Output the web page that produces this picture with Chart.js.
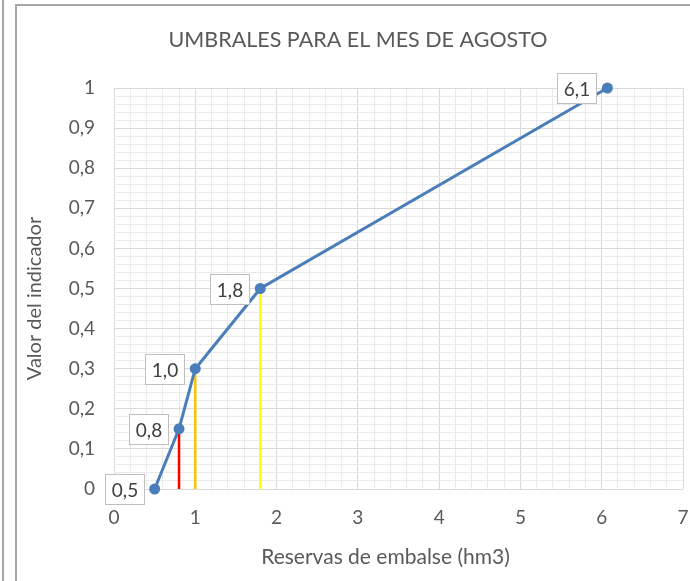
<!DOCTYPE html>
<html>
<head>
<meta charset="utf-8">
<script src="https://cdn.jsdelivr.net/npm/chart.js@4.4.1/dist/chart.umd.min.js"></script>
<style>
  html, body { margin: 0; padding: 0; background: #ffffff; }
  #wrap { position: relative; width: 690px; height: 581px; overflow: hidden; }
  #c { position: absolute; left: 0; top: 0; }
  .ln { position: absolute; background: #a6a6a6; pointer-events: none; }
</style>
</head>
<body>
<div id="wrap">
  <canvas id="c" width="690" height="581"></canvas>
  <div class="ln" style="left:2px;top:0;width:2px;height:581px;"></div>
  <div class="ln" style="left:15px;top:4px;width:2px;height:577px;"></div>
  <div class="ln" style="left:15px;top:4px;width:675px;height:2px;"></div>
</div>
<script>
// ---- Data ----
const reservas   = [0.5, 0.8, 1.0, 1.8, 6.07];      // x: Reservas de embalse (hm3)
const indicador  = [0, 0.15, 0.3, 0.5, 1];          // y: Valor del indicador
const etiquetas  = ['0,5', '0,8', '1,0', '1,8', '6,1'];
const umbralX    = [0.8, 1.0, 1.8];                 // threshold reserves
const umbralY    = [0.15, 0.3, 0.5];                // threshold indicator value
const xTicksLab  = ['0', '1', '2', '3', '4', '5', '6', '7'];
const yTicksLab  = ['0', '0,1', '0,2', '0,3', '0,4', '0,5', '0,6', '0,7', '0,8', '0,9', '1'];
const tituloTxt  = 'UMBRALES PARA EL MES DE AGOSTO';
const ejeXTxt    = 'Reservas de embalse (hm3)';
const ejeYTxt    = 'Valor del indicador';

const FONT = 'Lato, "Open Sans", sans-serif';
const TXT = '#595959';
const umbralColores = ['#ff0000', '#ffc000', '#ffff00'];

const mainData = reservas.map((x, i) => ({ x: x, y: indicador[i] }));
const umbralSets = umbralX.map((x, i) => ({
  label: 'umbral' + i,
  data: [{ x: x, y: 0 }, { x: x, y: umbralY[i] }],
  borderColor: umbralColores[i],
  borderWidth: 2.5,
  pointRadius: 0,
  order: 2,
  showLine: true
}));

function isNear(v, step) {
  const r = v / step;
  return Math.abs(r - Math.round(r)) < 1e-6;
}

const labelPlugin = {
  id: 'boxLabels',
  afterDatasetsDraw(chart) {
    const meta = chart.getDatasetMeta(0);
    const ctx = chart.ctx;
    ctx.save();
    ctx.font = '19px ' + FONT;
    ctx.textAlign = 'center';
    ctx.textBaseline = 'middle';
    meta.data.forEach((pt, i) => {
      const txt = etiquetas[i];
      const w = 39, h = 30, gap = 11;
      const bx = Math.round(pt.x - gap - w) + 0.5;
      const by = Math.round(pt.y - h / 2) + 0.5;
      ctx.fillStyle = '#ffffff';
      ctx.fillRect(bx, by, w, h);
      ctx.strokeStyle = '#bfbfbf';
      ctx.lineWidth = 1;
      ctx.strokeRect(bx, by, w, h);
      ctx.fillStyle = '#404040';
      ctx.fillText(txt, bx + w / 2, by + h / 2 + 1);
    });
    ctx.restore();
  }
};

const titlesPlugin = {
  id: 'titles',
  beforeDraw(chart) {
    const ctx = chart.ctx;
    ctx.save();
    ctx.fillStyle = '#ffffff';
    ctx.fillRect(0, 0, chart.width, chart.height);
    ctx.restore();
  },
  afterDraw(chart) {
    const ctx = chart.ctx;
    const a = chart.chartArea;
    ctx.save();
    ctx.fillStyle = TXT;
    ctx.textAlign = 'center';
    ctx.textBaseline = 'middle';
    ctx.font = '21.5px ' + FONT;
    ctx.fillText(tituloTxt, 358, 40);
    ctx.font = '21px ' + FONT;
    ctx.fillText(ejeXTxt, (a.left + a.right) / 2 - 13, 557);
    ctx.translate(35, (a.top + a.bottom) / 2 + 10);
    ctx.rotate(-Math.PI / 2);
    ctx.font = '20px ' + FONT;
    ctx.fillText(ejeYTxt, 0, 0);
    ctx.restore();
  }
};

new Chart(document.getElementById('c'), {
  type: 'scatter',
  data: {
    datasets: [{
      label: 'Umbral',
      data: mainData,
      showLine: true,
      clip: false,
      borderColor: '#4a7ebb',
      backgroundColor: '#4a7ebb',
      borderWidth: 3,
      pointRadius: 5.5,
      pointHoverRadius: 5.5,
      pointBorderWidth: 0,
      order: 1
    }].concat(umbralSets)
  },
  options: {
    responsive: false,
    animation: false,
    devicePixelRatio: 1,
    layout: { padding: { left: 17, right: 7, top: 88, bottom: 0 } },
    plugins: {
      legend: { display: false },
      tooltip: { enabled: false },
      title: { display: false }
    },
    scales: {
      x: {
        type: 'linear',
        min: 0, max: 7,
        afterFit(scale) { scale.height = 92; scale.paddingLeft = 0; scale.paddingRight = 0; },
        border: { display: false },
        grid: {
          drawTicks: false,
          color: (c) => isNear(c.tick.value, 1) ? '#d9d9d9' : '#eaeaea',
          lineWidth: 1
        },
        ticks: {
          stepSize: 0.2,
          autoSkip: false,
          maxRotation: 0,
          padding: 17,
          color: TXT,
          font: { family: FONT, size: 19 },
          callback: (v) => isNear(v, 1) ? xTicksLab[Math.round(v)] : ''
        }
      },
      y: {
        type: 'linear',
        min: 0, max: 1,
        afterFit(scale) { scale.width = 97; scale.paddingTop = 0; scale.paddingBottom = 0; },
        border: { display: false },
        grid: {
          drawTicks: false,
          color: (c) => isNear(c.tick.value, 0.1) ? '#d9d9d9' : '#eaeaea',
          lineWidth: 1
        },
        ticks: {
          stepSize: 0.02,
          autoSkip: false,
          padding: 19,
          color: TXT,
          font: { family: FONT, size: 19 },
          callback: (v) => isNear(v, 0.1) ? yTicksLab[Math.round(v * 10)] : ''
        }
      }
    }
  },
  plugins: [titlesPlugin, labelPlugin]
});
</script>
</body>
</html>
